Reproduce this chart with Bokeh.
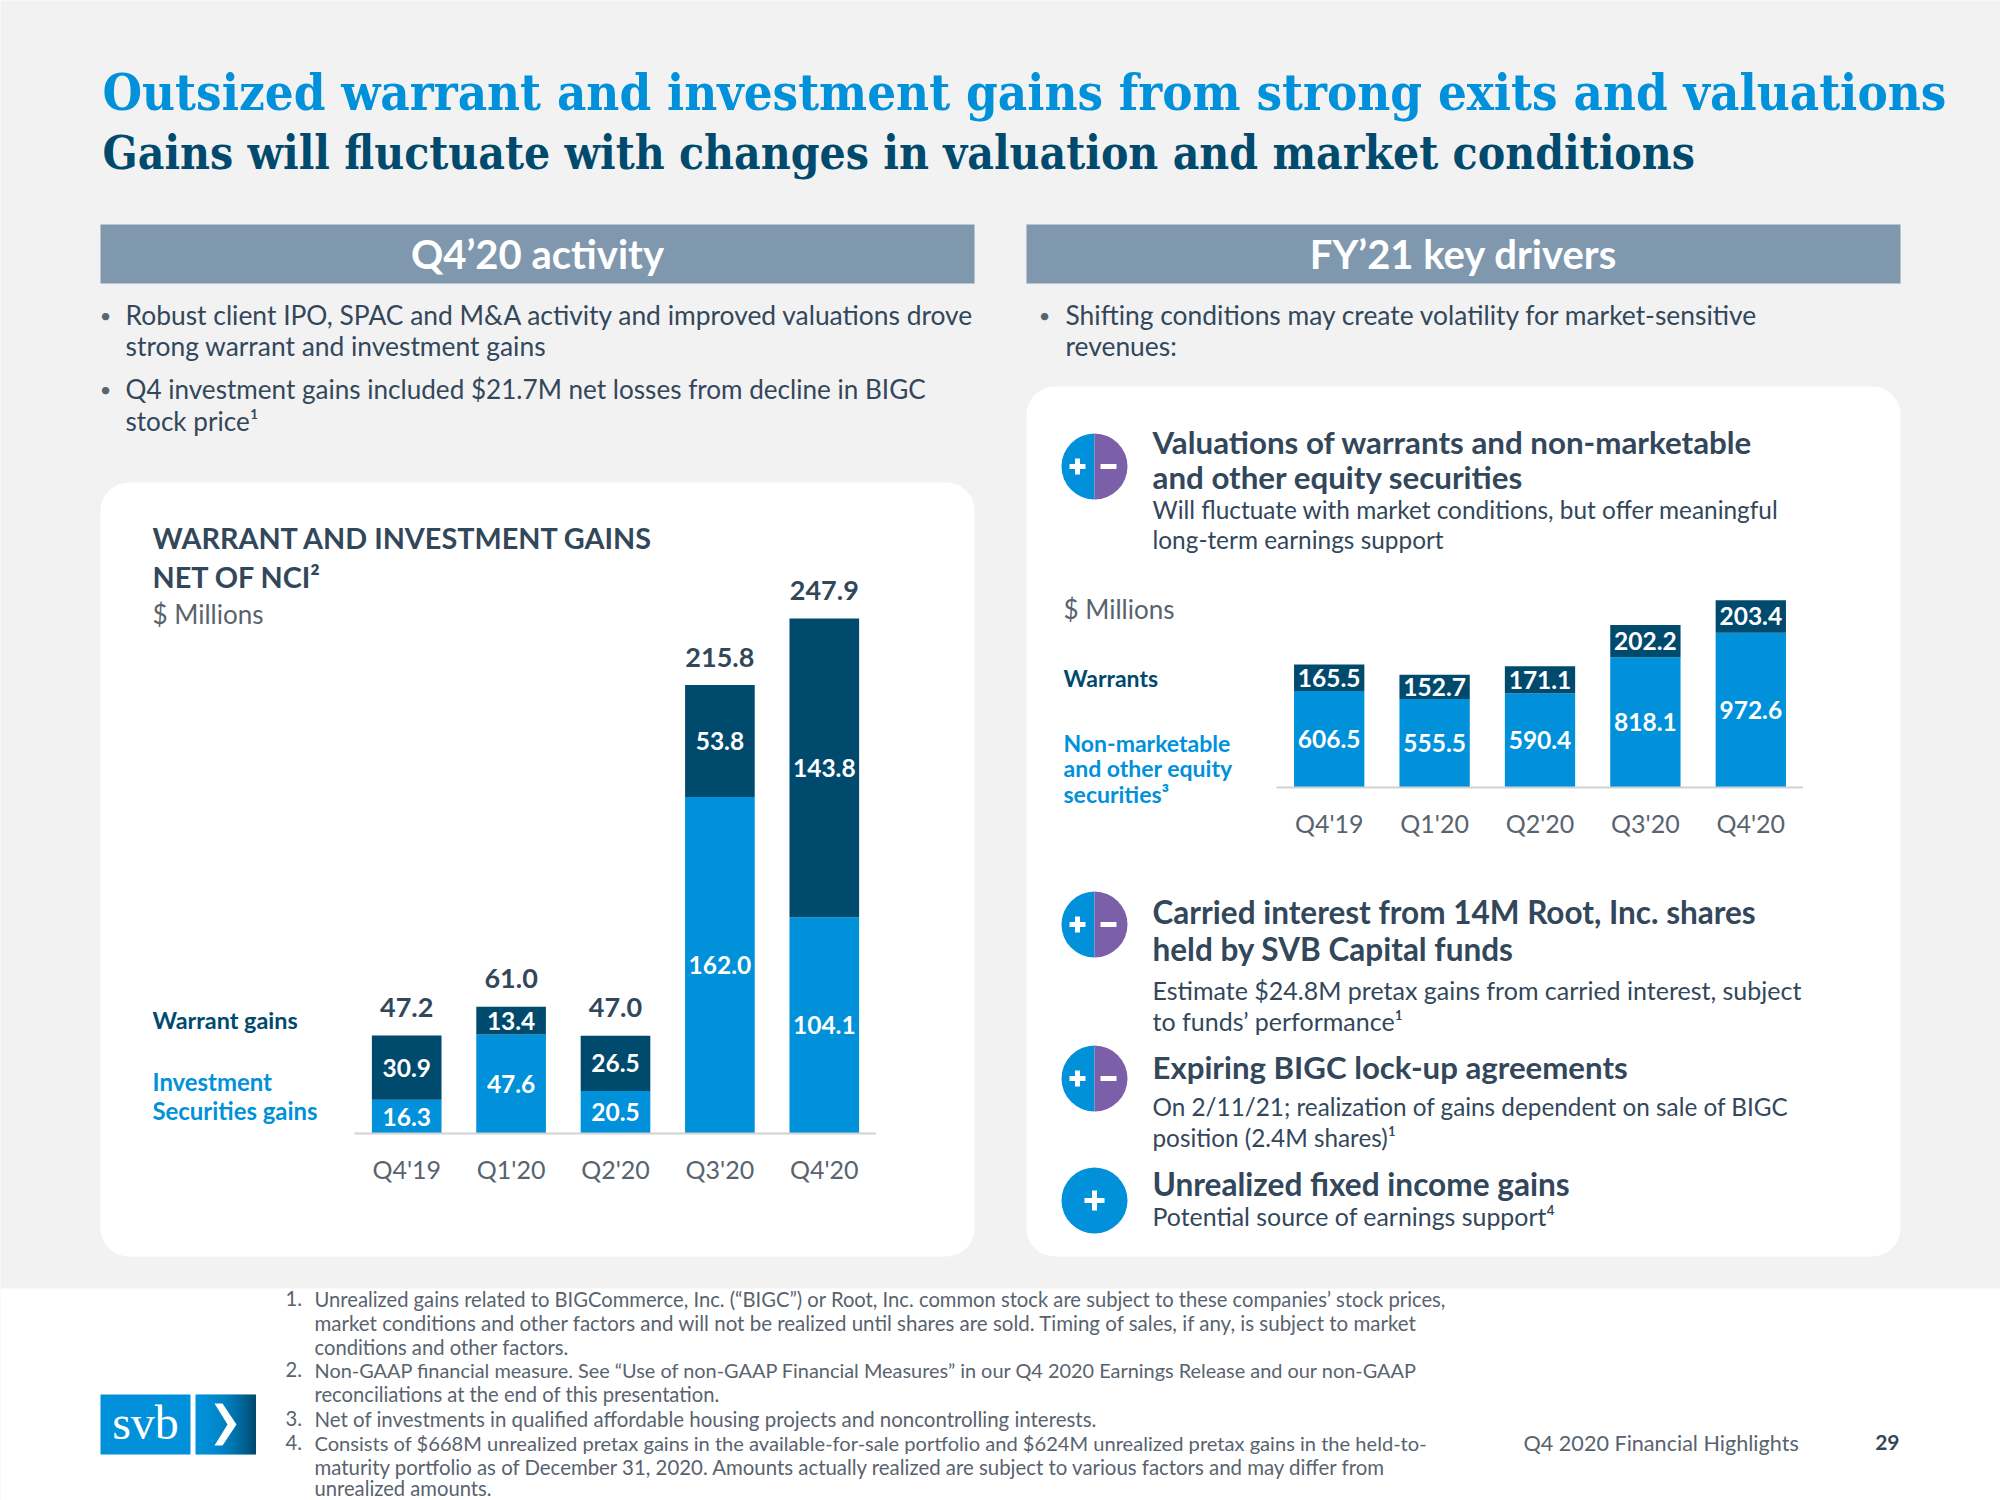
from math import pi
import numpy as np
from bokeh.plotting import figure
from bokeh.models import ColumnDataSource, Range1d, FactorRange, BoxAnnotation
from bokeh.core.properties import value
from bokeh.embed import file_html
from bokeh.resources import INLINE

quarters = ["Q4'19", "Q1'20", "Q2'20", "Q3'20", "Q4'20"]
investment_gains = [16.3, 47.6, 20.5, 162.0, 104.1]
warrant_gains = [30.9, 13.4, 26.5, 53.8, 143.8]
total_gains = [47.2, 61.0, 47.0, 215.8, 247.9]
nonmarketable = [606.5, 555.5, 590.4, 818.1, 972.6]
warrants = [165.5, 152.7, 171.1, 202.2, 203.4]

BLUE = "#0091DA"
NAVY = "#004A6E"
INK = "#33475B"
GREY = "#59636E"
PURPLE = "#7B5FA8"
HEAD = "#7F98AE"
BG = "#F2F2F2"
BODY = "Lato"
SERIF = "DejaVu Serif Condensed"


def abs_style(left, top):
    return {"position": "absolute", "left": f"{left}px", "top": f"{top}px"}


bg = figure(width=2000, height=1500, x_range=Range1d(0, 2000), y_range=Range1d(1500, 0),
            x_axis_location=None, y_axis_location=None, toolbar_location=None,
            output_backend="svg", background_fill_color=BG, border_fill_color=BG,
            min_border=0, outline_line_color=None, styles=abs_style(0, 0))
bg.grid.visible = False

bg.quad(left=[0], right=[2000], top=[1288], bottom=[1500], fill_color="white", line_color=None)
bg.quad(left=[100, 1026], right=[974, 1900], top=[224, 224], bottom=[283, 283],
        fill_color=HEAD, line_color=None)
for l, r, t, b in [(100, 974, 482, 1256), (1026, 1900, 386, 1256)]:
    bg.add_layout(BoxAnnotation(left=l, right=r, top=t, bottom=b, border_radius=28,
                                fill_color="white", fill_alpha=1, line_color=None, level="underlay"))


def T(x, y, s, size, color=INK, bold=False, align="left", font=BODY, baseline="middle"):
    bg.text(x=[x], y=[y - 2], text=[s], text_font=value(font), text_font_size=f"{size}px",
            text_font_style="bold" if bold else "normal", text_color=color,
            text_align=align, text_baseline=baseline)


T(102, 94, "Outsized warrant and investment gains from strong exits and valuations", 50.5, BLUE, True, font=SERIF)
T(102, 154, "Gains will fluctuate with changes in valuation and market conditions", 45.8, NAVY, True, font=SERIF)
T(537, 255, "Q4’20 activity", 40, "white", True, "center")
T(1463, 255, "FY’21 key drivers", 40, "white", True, "center")

for x, y in [(105, 316), (105, 390), (1044, 316)]:
    T(x, y, "•", 20, GREY, align="center")
T(125, 316, "Robust client IPO, SPAC and M&A activity and improved valuations drove", 26.4)
T(125, 347, "strong warrant and investment gains", 26.4)
T(125, 390, "Q4 investment gains included $21.7M net losses from decline in BIGC", 26.1)
T(125, 422, "stock price¹", 26.1)
T(1065, 316, "Shifting conditions may create volatility for market-sensitive", 26.4)
T(1065, 347, "revenues:", 26.4)

T(152, 539, "WARRANT AND INVESTMENT GAINS", 28.8, INK, True)
T(152, 578, "NET OF NCI²", 28.8, INK, True)
T(152, 615, "$ Millions", 26, GREY)
T(152, 1021, "Warrant gains", 23.4, NAVY, True)
T(152, 1083, "Investment", 23.9, BLUE, True)
T(152, 1112, "Securities gains", 23.9, BLUE, True)

T(1152, 443, "Valuations of warrants and non-marketable", 31.3, INK, True)
T(1152, 478, "and other equity securities", 31.3, INK, True)
T(1152, 511, "Will fluctuate with market conditions, but offer meaningful", 24.4)
T(1152, 541, "long-term earnings support", 24.4)
T(1063, 610, "$ Millions", 26, GREY)
T(1063, 679, "Warrants", 23, NAVY, True)
T(1063, 744, "Non-marketable", 23, BLUE, True)
T(1063, 769, "and other equity", 23, BLUE, True)
T(1063, 795, "securities³", 23, BLUE, True)
T(1152, 913, "Carried interest from 14M Root, Inc. shares", 31.5, INK, True)
T(1152, 950, "held by SVB Capital funds", 31.5, INK, True)
T(1152, 991, "Estimate $24.8M pretax gains from carried interest, subject", 25)
T(1152, 1022, "to funds’ performance¹", 25)
T(1152, 1068, "Expiring BIGC lock-up agreements", 31.2, INK, True)
T(1152, 1108, "On 2/11/21; realization of gains dependent on sale of BIGC", 24.3)
T(1152, 1139, "position (2.4M shares)¹", 24.3)
T(1152, 1185, "Unrealized fixed income gains", 31.6, INK, True)
T(1152, 1217, "Potential source of earnings support⁴", 24.9)

notes = [
    (1300, "1.", "Unrealized gains related to BIGCommerce, Inc. (“BIGC”) or Root, Inc. common stock are subject to these companies’ stock prices,", 20.2),
    (1324, "", "market conditions and other factors and will not be realized until shares are sold. Timing of sales, if any, is subject to market", 20.5),
    (1348, "", "conditions and other factors.", 20.2),
    (1371, "2.", "Non-GAAP financial measure. See “Use of non-GAAP Financial Measures” in our Q4 2020 Earnings Release and our non-GAAP", 19.9),
    (1395, "", "reconciliations at the end of this presentation.", 20.2),
    (1420, "3.", "Net of investments in qualified affordable housing projects and noncontrolling interests.", 20.45),
    (1444, "4.", "Consists of $668M unrealized pretax gains in the available-for-sale portfolio and $624M unrealized pretax gains in the held-to-", 20.1),
    (1468, "", "maturity portfolio as of December 31, 2020.  Amounts actually realized are subject to various factors and may differ from", 20.4),
    (1489, "", "unrealized amounts.", 20.2),
]
for y, n, s, sz in notes:
    if n:
        T(285, y, n, 20.2, GREY)
    T(314, y, s, sz, GREY)
T(1523, 1444, "Q4 2020 Financial Highlights", 21.6, GREY)
T(1899, 1444, "29", 21, INK, True, "right")


def icon(cy, both=True):
    if both:
        bg.wedge(x=[1094], y=[cy], radius=33, start_angle=pi / 2, end_angle=3 * pi / 2,
                 fill_color=BLUE, line_color=None)
        bg.wedge(x=[1094], y=[cy], radius=33, start_angle=-pi / 2, end_angle=pi / 2,
                 fill_color=PURPLE, line_color=None)
        px, half = 1077, 8
        bg.quad(left=[1100], right=[1116], top=[cy - 2.5], bottom=[cy + 2.5], fill_color="white", line_color=None)
    else:
        bg.circle(x=[1094], y=[cy], radius=33, fill_color=BLUE, line_color=None)
        px, half = 1094, 10
    bg.quad(left=[px - half, px - 2.5], right=[px + half, px + 2.5],
            top=[cy - 2.5, cy - half], bottom=[cy + 2.5, cy + half], fill_color="white", line_color=None)


icon(466)
icon(924)
icon(1078)
icon(1200, both=False)

# logo
bg.quad(left=[100], right=[190], top=[1394], bottom=[1454], fill_color=BLUE, line_color=None)
c0, c1 = np.array([0, 145, 218]), np.array([0, 74, 110])
edges = np.linspace(195, 255, 31)
cols = ["#%02x%02x%02x" % tuple((c0 + (c1 - c0) * t ** 2).astype(int)) for t in np.linspace(0, 1, 30)]
bg.quad(left=edges[:-1], right=edges[1:] + 0.5, top=1394, bottom=1454, fill_color=cols, line_color=None)
bg.patch(x=[214, 222, 236, 222, 214, 227], y=[1403, 1403, 1424, 1445, 1445, 1424], fill_color="white", line_color=None)
T(145, 1424, "svb", 48, "white", False, "center", font="Liberation Serif")


def stacked(left, top, frame_w, y_max, px_per_unit, bottom, upper, totals=None):
    p = figure(frame_width=frame_w, frame_height=int(round(y_max * px_per_unit)),
               x_range=FactorRange(factors=quarters, range_padding=0, factor_padding=0),
               y_range=Range1d(0, y_max), y_axis_location=None, toolbar_location=None,
               output_backend="svg", background_fill_color=None, border_fill_color=None,
               min_border=0, outline_line_color=None, styles=abs_style(left, top))
    p.grid.visible = False
    src = ColumnDataSource(dict(q=quarters, lo=bottom, hi=upper))
    p.vbar_stack(["lo", "hi"], x="q", width=0.667, source=src, color=[BLUE, NAVY], line_color=None)
    lo, hi = np.array(bottom), np.array(upper)
    lab = ColumnDataSource(dict(
        q=quarters + quarters, y=np.concatenate([lo / 2, lo + hi / 2]),
        t=[f"{v:.1f}" for v in bottom + upper]))
    p.text(x="q", y="y", text="t", source=lab, text_color="white", text_font=value(BODY),
           text_font_style="bold", text_font_size="24.5px", text_align="center", text_baseline="middle")
    if totals:
        tot = ColumnDataSource(dict(q=quarters, y=lo + hi, t=[f"{v:.1f}" for v in totals]))
        p.text(x="q", y="y", text="t", source=tot, y_offset=-28, text_color=INK, text_font=value(BODY),
               text_font_style="bold", text_font_size="27px", text_align="center", text_baseline="middle")
    ax = p.xaxis[0]
    ax.axis_line_color = "#D2D2D2"
    ax.axis_line_width = 2
    ax.major_tick_line_color = None
    ax.minor_tick_line_color = None
    ax.major_label_text_font = BODY
    ax.major_label_text_font_size = "25px"
    ax.major_label_text_color = GREY
    ax.major_label_standoff = 14
    return p


y1, k1 = 270, 2.078
c_left = stacked(354, 1133 - int(round(y1 * k1)), 522, y1, k1, investment_gains, warrant_gains, total_gains)
y2, k2 = 1300, 0.1594
c_right = stacked(1276, 787 - int(round(y2 * k2)), 527, y2, k2, nonmarketable, warrants)

html = file_html([bg, c_left, c_right], INLINE)
open("out.html", "w").write(html)
